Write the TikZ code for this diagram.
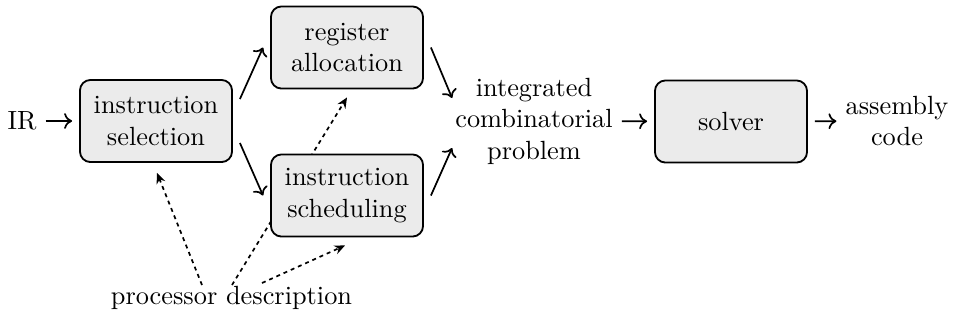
\documentclass[tikz,border=0pt]{standalone}
\usetikzlibrary{calc,arrows.meta}
\pgfdeclarelayer{bg}
\pgfsetlayers{bg,main}
\begin{document}
\begin{tikzpicture}[x=0.38pt,y=-0.38pt,
  box/.style={draw,line width=0.7pt,rounded corners=4pt,fill=black!8,
    minimum width=57.8pt,minimum height=31.2pt,align=center,outer sep=3pt,inner sep=0pt},
  txt/.style={align=center},
  arr/.style={-{To[length=3pt,width=6pt]},line width=0.65pt},
  darr/.style={-{Stealth[length=4pt,width=3.5pt]},dash pattern=on 1.5pt off 1.5pt,line width=0.65pt}]
\useasboundingbox (0,0) rectangle (957,320);
\node[txt] (ir) at (22,121) {IR};
\node[box] (isel) at (156,121) {instruction\\selection};
\node[box] (ra) at (347,47.5) {register\\allocation};
\node[box] (sched) at (347,195.5) {instruction\\scheduling};
\node[txt] (icp) at (534,121) {integrated\\combinatorial\\problem};
\node[box] (solver) at (731,121.5) {solver};
\node[txt] (asm) at (897,121) {assembly\\code};
\node[txt] (pd) at (231.5,298) {processor description};

\draw[arr] (ir) -- (isel);
\draw[arr] ($(isel.east)+(0,-22)$) -- (ra.west);
\draw[arr] ($(isel.east)+(0,22)$) -- (sched.west);
\draw[arr] (ra.east) -- ($(icp.west)+(6,-23)$);
\draw[arr] (sched.east) -- ($(icp.west)+(6,27)$);
\draw[arr] (icp) -- (solver);
\draw[arr] (solver) -- (asm);

\draw[darr] ($(pd.center)+(-29.5,-13)$) -- ($(isel.south)+(1,3)$);
\begin{pgfonlayer}{bg}
\draw[darr] ($(pd.center)+(0.5,-13)$) -- ($(ra.south)+(0,1)$);
\end{pgfonlayer}
\draw[darr] ($(pd.center)+(30.5,-15)$) -- ($(sched.south)+(-2,1)$);
\end{tikzpicture}
\end{document}
